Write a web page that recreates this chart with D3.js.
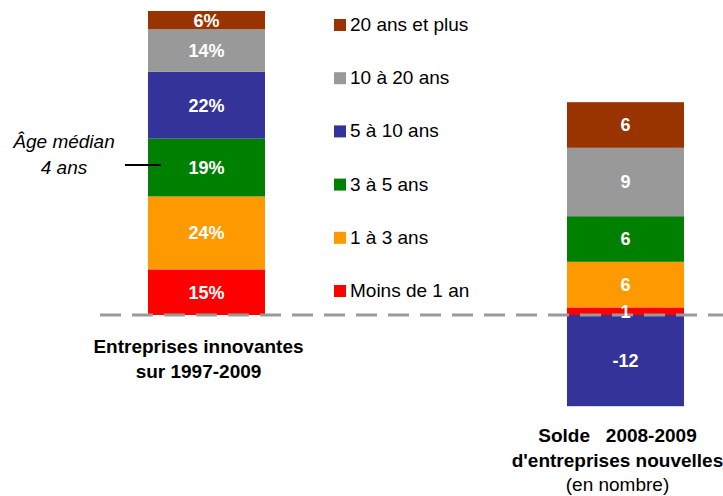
<!DOCTYPE html>
<html>
<head>
<meta charset="utf-8">
<script src="https://cdn.jsdelivr.net/npm/d3@7"></script>
<style>
  body { margin: 0; background: #fff; }
  svg { font-family: "Liberation Sans", Arial, sans-serif; }
</style>
</head>
<body>
<svg id="chart" width="723" height="496"></svg>
<script>
// tranches d'âge (du bas vers le haut de la pile)
var ageGroups = ["Moins de 1 an", "1 à 3 ans", "3 à 5 ans", "5 à 10 ans", "10 à 20 ans", "20 ans et plus"];
var colors = ["#ff0000", "#ff9900", "#008000", "#333399", "#999999", "#993300"];
// entreprises innovantes 1997-2009 (%)
var shares = [15, 24, 19, 22, 14, 6];
// solde 2008-2009 d'entreprises nouvelles (en nombre)
var solde = [1, 6, 6, -12, 9, 6];
var barNames = ["innovantes", "solde"];
var barLabels = [
    ["Entreprises innovantes", "sur 1997-2009"],
    ["Solde   2008-2009", "d'entreprises nouvelles", "(en nombre)"]
];
var medianShare = 50;

var svg = d3.select("#chart"),
    barWidth = 117,
    baseY = 315;

var x = d3.scalePoint()
    .domain(barNames)
    .range([206.5, 625.5]);

// deux échelles différentes, même ligne de base
var yPct = d3.scaleLinear().domain([0, 100]).range([baseY, 11]);
var yNum = d3.scaleLinear().domain([-12, 28]).range([baseY + 12 * 7.6, baseY - 28 * 7.6]);
var yScales = {innovantes: yPct, solde: yNum};

var color = d3.scaleOrdinal().domain(ageGroups).range(colors);

var rows = barNames.map(function(b, j) {
    var row = {bar: b};
    ageGroups.forEach(function(g, i) { row[g] = j == 0 ? shares[i] : solde[i]; });
    return row;
});

var series = d3.stack()
    .keys(ageGroups)
    .offset(d3.stackOffsetDiverging)(rows);

var layer = svg.append("g").attr("class", "bars")
    .selectAll("g")
    .data(series)
    .join("g")
    .attr("fill", d => color(d.key));

layer.selectAll("rect")
    .data(d => d.map(s => ({key: d.key, bar: s.data.bar, y0: s[0], y1: s[1], v: s.data[d.key]})))
    .join("rect")
    .attr("x", d => x(d.bar) - barWidth / 2)
    .attr("width", barWidth)
    .attr("y", d => yScales[d.bar](Math.max(d.y0, d.y1)))
    .attr("height", d => Math.abs(yScales[d.bar](d.y0) - yScales[d.bar](d.y1)));

// ligne de base en tirets
svg.append("line")
    .attr("x1", 100)
    .attr("x2", 723)
    .attr("y1", yPct(0))
    .attr("y2", yPct(0))
    .attr("stroke", "#999")
    .attr("stroke-width", 3)
    .attr("stroke-dasharray", "21,11");

// valeurs dans les barres
var allSegs = [];
series.forEach(function(s) {
    s.forEach(function(p) {
        allSegs.push({bar: p.data.bar, y0: p[0], y1: p[1], v: p.data[s.key]});
    });
});

svg.append("g").selectAll("text")
    .data(allSegs)
    .join("text")
    .attr("x", d => x(d.bar))
    .attr("y", d => yScales[d.bar]((d.y0 + d.y1) / 2))
    .attr("dy", "0.36em")
    .attr("text-anchor", "middle")
    .attr("fill", "#fff")
    .attr("font-weight", "bold")
    .attr("font-size", 18)
    .text(d => d.bar == "innovantes" ? d.v + "%" : d.v);

// libellés des barres
var cat = svg.append("g").selectAll("text")
    .data(barNames)
    .join("text")
    .attr("x", d => x(d) - 8)
    .attr("y", (d, i) => i == 0 ? 353 : 442)
    .attr("text-anchor", "middle")
    .attr("font-size", 19)
    .attr("fill", "#000")
    .style("white-space", "pre");

cat.selectAll("tspan")
    .data((d, i) => barLabels[i].map((t, k) => ({t: t, k: k, bar: d})))
    .join("tspan")
    .attr("x", d => x(d.bar) - 8)
    .attr("dy", d => d.k == 0 ? 0 : (d.bar == "innovantes" ? 25 : 24.5))
    .attr("font-weight", d => d.k == 2 ? "normal" : "bold")
    .text(d => d.t);

// légende
var legendY = d3.scalePoint()
    .domain(ageGroups.slice().reverse())
    .range([19, 285]);

var legend = svg.append("g").selectAll("g")
    .data(ageGroups)
    .join("g")
    .attr("transform", d => "translate(334," + legendY(d) + ")");

legend.append("rect")
    .attr("width", 12)
    .attr("height", 12)
    .attr("fill", d => color(d));

legend.append("text")
    .attr("x", 16)
    .attr("y", 12)
    .attr("font-size", 19)
    .attr("fill", "#000")
    .text(d => d);

// âge médian
var left = x("innovantes") - barWidth / 2;
svg.append("line")
    .attr("x1", left - 23)
    .attr("x2", left + 13)
    .attr("y1", yPct(medianShare) + 2)
    .attr("y2", yPct(medianShare) + 2)
    .attr("stroke", "#000")
    .attr("stroke-width", 2);

svg.append("text")
    .attr("x", 64)
    .attr("y", 148)
    .attr("text-anchor", "middle")
    .attr("font-size", 19)
    .attr("font-style", "italic")
    .selectAll("tspan")
    .data(["Âge médian", "4 ans"])
    .join("tspan")
    .attr("x", 64)
    .attr("dy", (d, i) => i == 0 ? 0 : 26)
    .text(d => d);
</script>
</body>
</html>
